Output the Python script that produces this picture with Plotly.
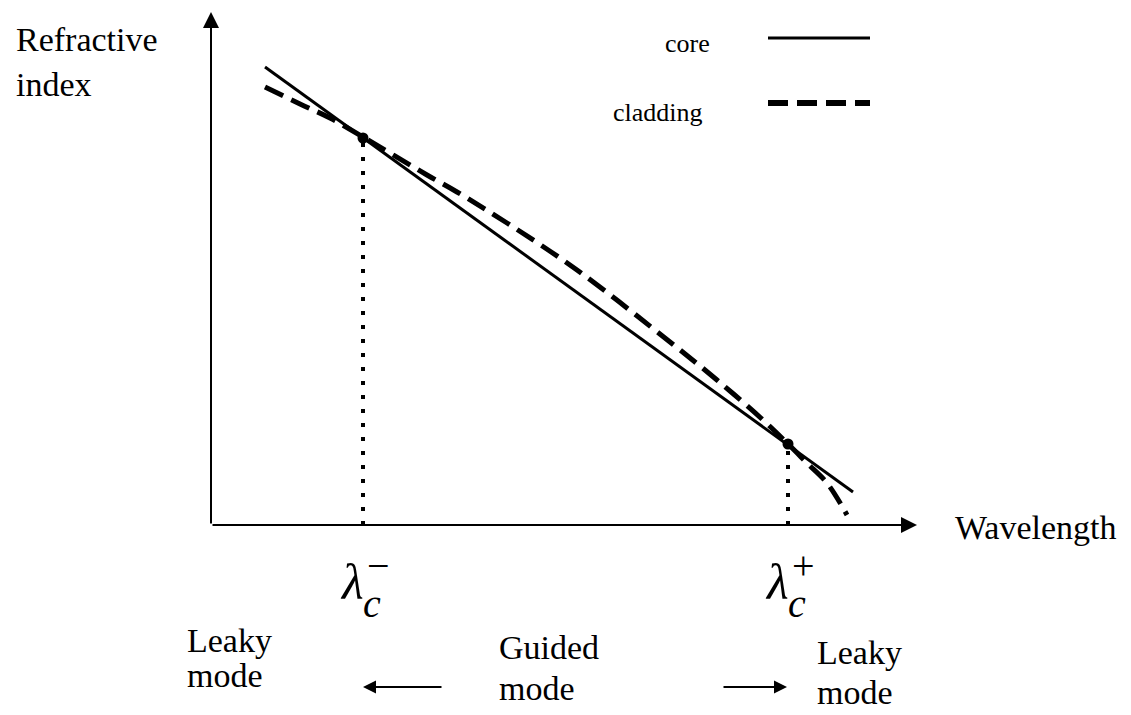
import plotly.graph_objects as go

# ---- data (arbitrary schematic units: wavelength, refractive index) ----
wavelength_core = [54, 642]
index_core = [458, 33]

wavelength_clad = [54, 89, 119, 152, 216, 246, 296, 366, 459, 506, 552, 577, 596, 616, 636]
index_clad = [438, 421, 407, 388, 350, 333, 302, 255, 183, 145, 105, 81, 62, 42, 10]

cutoff_wavelength = [152, 577]
cutoff_index = [387, 81]
cutoff_sign = ["−", "+"]

series_names = ["core", "cladding"]
axis_titles = {"y": ["Refractive", "index"], "x": "Wavelength"}
mode_labels = {"left": ["Leaky", "mode"], "mid": ["Guided", "mode"], "right": ["Leaky", "mode"]}

FONT = "Liberation Serif, Times New Roman, serif"
BLACK = "black"

fig = go.Figure()

# core (solid)
fig.add_trace(go.Scatter(x=wavelength_core, y=index_core, mode="lines",
                         line=dict(color=BLACK, width=3), name=series_names[0],
                         showlegend=False, hoverinfo="skip"))
# cladding (dashed)
fig.add_trace(go.Scatter(x=wavelength_clad, y=index_clad, mode="lines",
                         line=dict(color=BLACK, width=5, dash="20px,9px", shape="spline"),
                         name=series_names[1], showlegend=False, hoverinfo="skip"))

# dotted verticals at cut-off wavelengths
for wl, n in zip(cutoff_wavelength, cutoff_index):
    fig.add_trace(go.Scatter(x=[wl, wl], y=[0, n], mode="lines",
                             line=dict(color=BLACK, width=4, dash="4px,10px"),
                             showlegend=False, hoverinfo="skip"))
# crossing points
fig.add_trace(go.Scatter(x=cutoff_wavelength, y=cutoff_index, mode="markers",
                         marker=dict(color=BLACK, size=11), showlegend=False,
                         hoverinfo="skip"))

# manual legend samples
fig.add_trace(go.Scatter(x=[557, 659], y=[487, 487], mode="lines",
                         line=dict(color=BLACK, width=3), showlegend=False, hoverinfo="skip"))
fig.add_trace(go.Scatter(x=[557, 659], y=[422, 422], mode="lines",
                         line=dict(color=BLACK, width=6, dash="20px,9px"),
                         showlegend=False, hoverinfo="skip"))

ann = []

def txt(x, y, s, size, xanchor="left", italic=False):
    ann.append(dict(x=x, y=y, xref="x", yref="y", text=s, showarrow=False,
                    xanchor=xanchor, yanchor="middle",
                    font=dict(family=FONT, size=size, color=BLACK,
                              style="italic" if italic else "normal")))

def arrow(x0, y0, x1, y1, size=1.6, width=2):
    ann.append(dict(x=x1, y=y1, ax=x0, ay=y0, xref="x", yref="y", axref="x", ayref="y",
                    text="", showarrow=True, arrowhead=2, arrowsize=size,
                    arrowwidth=width, arrowcolor=BLACK))

# axes with arrowheads
arrow(0, 0, 0, 513)
arrow(0, 0, 706, 0)

# axis titles
txt(-197, 486, axis_titles["y"][0], 34)
txt(-197, 441, axis_titles["y"][1], 34)
txt(742, -2, axis_titles["x"], 34)

# legend text
txt(501, 482, series_names[0], 26, xanchor="right")
txt(494, 413, series_names[1], 26, xanchor="right")

# lambda labels
for wl, sgn in zip(cutoff_wavelength, cutoff_sign):
    txt(wl - 11, -57, "λ", 50, xanchor="center", italic=True)
    txt(wl + 9, -78, "c", 40, xanchor="center", italic=True)
    txt(wl + 15, -40, sgn, 40, xanchor="center")

# mode labels
txt(-26, -115, mode_labels["left"][0], 34)
txt(-26, -150, mode_labels["left"][1], 34)
txt(286, -122, mode_labels["mid"][0], 34)
txt(286, -163, mode_labels["mid"][1], 34)
txt(604, -127, mode_labels["right"][0], 34)
txt(604, -167, mode_labels["right"][1], 34)

arrow(232, -162, 152, -162, size=1.3)
arrow(511, -162, 576, -162, size=1.3)

fig.update_layout(
    width=1131, height=715,
    margin=dict(l=0, r=0, t=0, b=0),
    paper_bgcolor="white", plot_bgcolor="white",
    xaxis=dict(range=[-203, 928], visible=False, fixedrange=True),
    yaxis=dict(range=[-198, 517], visible=False, fixedrange=True),
    annotations=ann,
    showlegend=False,
)

fig.write_html("out.html")
